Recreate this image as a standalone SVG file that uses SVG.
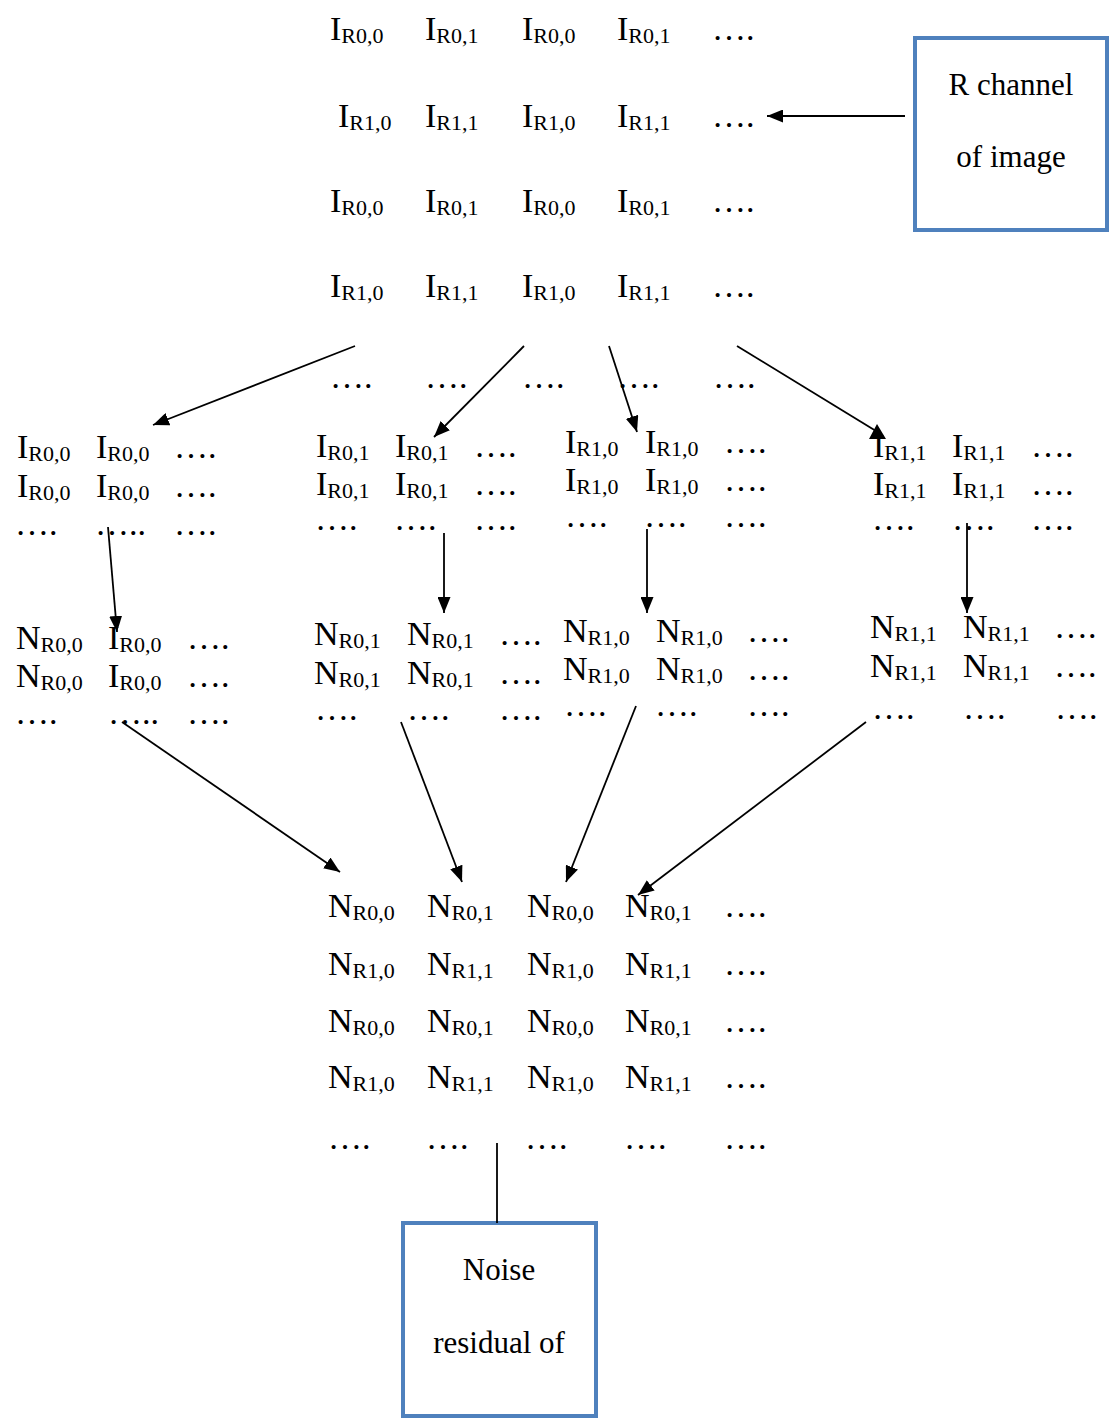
<svg xmlns="http://www.w3.org/2000/svg" width="1112" height="1426" viewBox="0 0 1112 1426">
  <defs>
    <style>
      .m { font-family: "Liberation Serif", "Times New Roman", serif; font-size: 34px; fill: #000; }
      .s { font-size: 22px; }
      .box { fill: #fff; stroke: #4F81BD; stroke-width: 4; }
      .bt { font-family: "Liberation Serif", "Times New Roman", serif; font-size: 31px; fill: #000; text-anchor: middle; }
      .c { stroke: #000; stroke-width: 1.8; fill: none; }
      .a { marker-end: url(#head); }
    </style>
    <marker id="head" markerUnits="userSpaceOnUse" markerWidth="17" markerHeight="13" refX="16" refY="6.5" orient="auto">
      <path d="M0,0 L16,6.5 L0,13 z" fill="#000"/>
    </marker>
  </defs>
  <rect width="1112" height="1426" fill="#fff"/>

  <!-- full R channel grid -->
  <g id="grid-r-channel">
    <text class="m" x="330" y="40">I<tspan class="s" dy="3">R0,0</tspan></text>
    <text class="m" x="425" y="40">I<tspan class="s" dy="3">R0,1</tspan></text>
    <text class="m" x="522" y="40">I<tspan class="s" dy="3">R0,0</tspan></text>
    <text class="m" x="617" y="40">I<tspan class="s" dy="3">R0,1</tspan></text>
    <text class="m" x="712" y="40">….</text>
    <text class="m" x="338" y="127">I<tspan class="s" dy="3">R1,0</tspan></text>
    <text class="m" x="425" y="127">I<tspan class="s" dy="3">R1,1</tspan></text>
    <text class="m" x="522" y="127">I<tspan class="s" dy="3">R1,0</tspan></text>
    <text class="m" x="617" y="127">I<tspan class="s" dy="3">R1,1</tspan></text>
    <text class="m" x="712" y="127">….</text>
    <text class="m" x="330" y="212">I<tspan class="s" dy="3">R0,0</tspan></text>
    <text class="m" x="425" y="212">I<tspan class="s" dy="3">R0,1</tspan></text>
    <text class="m" x="522" y="212">I<tspan class="s" dy="3">R0,0</tspan></text>
    <text class="m" x="617" y="212">I<tspan class="s" dy="3">R0,1</tspan></text>
    <text class="m" x="712" y="212">….</text>
    <text class="m" x="330" y="297">I<tspan class="s" dy="3">R1,0</tspan></text>
    <text class="m" x="425" y="297">I<tspan class="s" dy="3">R1,1</tspan></text>
    <text class="m" x="522" y="297">I<tspan class="s" dy="3">R1,0</tspan></text>
    <text class="m" x="617" y="297">I<tspan class="s" dy="3">R1,1</tspan></text>
    <text class="m" x="712" y="297">….</text>
    <text class="m" x="330" y="388">….</text>
    <text class="m" x="425" y="388">….</text>
    <text class="m" x="522" y="388">….</text>
    <text class="m" x="617" y="388">….</text>
    <text class="m" x="713" y="388">….</text>
  </g>

  <!-- sub-image (0,0) -->
  <g id="sub-r00">
    <text class="m" x="17" y="458">I<tspan class="s" dy="3">R0,0</tspan></text>
    <text class="m" x="96" y="458">I<tspan class="s" dy="3">R0,0</tspan></text>
    <text class="m" x="174" y="458">….</text>
    <text class="m" x="17" y="497">I<tspan class="s" dy="3">R0,0</tspan></text>
    <text class="m" x="96" y="497">I<tspan class="s" dy="3">R0,0</tspan></text>
    <text class="m" x="174" y="497">….</text>
    <text class="m" x="15" y="535">….</text>
    <text class="m" x="95" y="535">…..</text>
    <text class="m" x="174" y="535">….</text>
  </g>
  <g id="noise-r00">
    <text class="m" x="16" y="649">N<tspan class="s" dy="3">R0,0</tspan></text>
    <text class="m" x="108" y="649">I<tspan class="s" dy="3">R0,0</tspan></text>
    <text class="m" x="187" y="649">….</text>
    <text class="m" x="16" y="687">N<tspan class="s" dy="3">R0,0</tspan></text>
    <text class="m" x="108" y="687">I<tspan class="s" dy="3">R0,0</tspan></text>
    <text class="m" x="187" y="687">….</text>
    <text class="m" x="15" y="724">….</text>
    <text class="m" x="108" y="724">…..</text>
    <text class="m" x="187" y="724">….</text>
  </g>

  <!-- sub-image (0,1) -->
  <g id="sub-r01">
    <text class="m" x="316" y="457">I<tspan class="s" dy="3">R0,1</tspan></text>
    <text class="m" x="395" y="457">I<tspan class="s" dy="3">R0,1</tspan></text>
    <text class="m" x="474" y="457">….</text>
    <text class="m" x="316" y="495">I<tspan class="s" dy="3">R0,1</tspan></text>
    <text class="m" x="395" y="495">I<tspan class="s" dy="3">R0,1</tspan></text>
    <text class="m" x="474" y="495">….</text>
    <text class="m" x="315" y="530">….</text>
    <text class="m" x="394" y="530">….</text>
    <text class="m" x="474" y="530">….</text>
  </g>
  <g id="noise-r01">
    <text class="m" x="314" y="645">N<tspan class="s" dy="3">R0,1</tspan></text>
    <text class="m" x="407" y="645">N<tspan class="s" dy="3">R0,1</tspan></text>
    <text class="m" x="499" y="645">….</text>
    <text class="m" x="314" y="684">N<tspan class="s" dy="3">R0,1</tspan></text>
    <text class="m" x="407" y="684">N<tspan class="s" dy="3">R0,1</tspan></text>
    <text class="m" x="499" y="684">….</text>
    <text class="m" x="315" y="720">….</text>
    <text class="m" x="407" y="720">….</text>
    <text class="m" x="499" y="720">….</text>
  </g>

  <!-- sub-image (1,0) -->
  <g id="sub-r10">
    <text class="m" x="565" y="453">I<tspan class="s" dy="3">R1,0</tspan></text>
    <text class="m" x="645" y="453">I<tspan class="s" dy="3">R1,0</tspan></text>
    <text class="m" x="724" y="453">….</text>
    <text class="m" x="565" y="491">I<tspan class="s" dy="3">R1,0</tspan></text>
    <text class="m" x="645" y="491">I<tspan class="s" dy="3">R1,0</tspan></text>
    <text class="m" x="724" y="491">….</text>
    <text class="m" x="565" y="527">….</text>
    <text class="m" x="644" y="527">….</text>
    <text class="m" x="724" y="527">….</text>
  </g>
  <g id="noise-r10">
    <text class="m" x="563" y="642">N<tspan class="s" dy="3">R1,0</tspan></text>
    <text class="m" x="656" y="642">N<tspan class="s" dy="3">R1,0</tspan></text>
    <text class="m" x="747" y="642">….</text>
    <text class="m" x="563" y="680">N<tspan class="s" dy="3">R1,0</tspan></text>
    <text class="m" x="656" y="680">N<tspan class="s" dy="3">R1,0</tspan></text>
    <text class="m" x="747" y="680">….</text>
    <text class="m" x="564" y="716">….</text>
    <text class="m" x="655" y="716">….</text>
    <text class="m" x="747" y="716">….</text>
  </g>

  <!-- sub-image (1,1) -->
  <g id="sub-r11">
    <text class="m" x="873" y="457">I<tspan class="s" dy="3">R1,1</tspan></text>
    <text class="m" x="952" y="457">I<tspan class="s" dy="3">R1,1</tspan></text>
    <text class="m" x="1031" y="457">….</text>
    <text class="m" x="873" y="495">I<tspan class="s" dy="3">R1,1</tspan></text>
    <text class="m" x="952" y="495">I<tspan class="s" dy="3">R1,1</tspan></text>
    <text class="m" x="1031" y="495">….</text>
    <text class="m" x="872" y="530">….</text>
    <text class="m" x="952" y="530">….</text>
    <text class="m" x="1031" y="530">….</text>
  </g>
  <g id="noise-r11">
    <text class="m" x="870" y="638">N<tspan class="s" dy="3">R1,1</tspan></text>
    <text class="m" x="963" y="638">N<tspan class="s" dy="3">R1,1</tspan></text>
    <text class="m" x="1054" y="638">….</text>
    <text class="m" x="870" y="677">N<tspan class="s" dy="3">R1,1</tspan></text>
    <text class="m" x="963" y="677">N<tspan class="s" dy="3">R1,1</tspan></text>
    <text class="m" x="1054" y="677">….</text>
    <text class="m" x="872" y="719">….</text>
    <text class="m" x="963" y="719">….</text>
    <text class="m" x="1055" y="719">….</text>
  </g>

  <!-- reassembled noise residual grid -->
  <g id="grid-noise">
    <text class="m" x="328" y="917">N<tspan class="s" dy="3">R0,0</tspan></text>
    <text class="m" x="427" y="917">N<tspan class="s" dy="3">R0,1</tspan></text>
    <text class="m" x="527" y="917">N<tspan class="s" dy="3">R0,0</tspan></text>
    <text class="m" x="625" y="917">N<tspan class="s" dy="3">R0,1</tspan></text>
    <text class="m" x="724" y="917">….</text>
    <text class="m" x="328" y="975">N<tspan class="s" dy="3">R1,0</tspan></text>
    <text class="m" x="427" y="975">N<tspan class="s" dy="3">R1,1</tspan></text>
    <text class="m" x="527" y="975">N<tspan class="s" dy="3">R1,0</tspan></text>
    <text class="m" x="625" y="975">N<tspan class="s" dy="3">R1,1</tspan></text>
    <text class="m" x="724" y="975">….</text>
    <text class="m" x="328" y="1032">N<tspan class="s" dy="3">R0,0</tspan></text>
    <text class="m" x="427" y="1032">N<tspan class="s" dy="3">R0,1</tspan></text>
    <text class="m" x="527" y="1032">N<tspan class="s" dy="3">R0,0</tspan></text>
    <text class="m" x="625" y="1032">N<tspan class="s" dy="3">R0,1</tspan></text>
    <text class="m" x="724" y="1032">….</text>
    <text class="m" x="328" y="1088">N<tspan class="s" dy="3">R1,0</tspan></text>
    <text class="m" x="427" y="1088">N<tspan class="s" dy="3">R1,1</tspan></text>
    <text class="m" x="527" y="1088">N<tspan class="s" dy="3">R1,0</tspan></text>
    <text class="m" x="625" y="1088">N<tspan class="s" dy="3">R1,1</tspan></text>
    <text class="m" x="724" y="1088">….</text>
    <text class="m" x="328" y="1149">….</text>
    <text class="m" x="426" y="1149">….</text>
    <text class="m" x="525" y="1149">….</text>
    <text class="m" x="624" y="1149">….</text>
    <text class="m" x="724" y="1149">….</text>
  </g>

  <!-- labelled boxes -->
  <g id="box-r-channel">
    <rect class="box" x="915" y="38" width="192" height="192"/>
    <text class="bt" x="1011" y="95">R channel</text>
    <text class="bt" x="1011" y="167">of image</text>
  </g>
  <g id="box-noise">
    <rect class="box" x="403" y="1223" width="193" height="193"/>
    <text class="bt" x="499" y="1280">Noise</text>
    <text class="bt" x="499" y="1353">residual of</text>
  </g>

  <!-- connectors -->
  <g id="connectors">
    <line class="c a" x1="905" y1="116" x2="767" y2="116"/>
    <line class="c a" x1="355" y1="346" x2="153" y2="425"/>
    <line class="c a" x1="524" y1="346" x2="434" y2="437"/>
    <line class="c a" x1="609" y1="346" x2="637" y2="432"/>
    <line class="c" x1="737" y1="346" x2="876" y2="431"/>
    <polygon points="877,424 869,439 886,439" fill="#000"/>
    <line class="c a" x1="108" y1="527" x2="117" y2="632"/>
    <line class="c a" x1="444" y1="533" x2="444" y2="613"/>
    <line class="c a" x1="647" y1="529" x2="647" y2="613"/>
    <line class="c a" x1="967" y1="523" x2="967" y2="613"/>
    <line class="c a" x1="122" y1="722" x2="340" y2="872"/>
    <line class="c a" x1="401" y1="722" x2="462" y2="882"/>
    <line class="c a" x1="636" y1="706" x2="566" y2="882"/>
    <line class="c a" x1="866" y1="722" x2="638" y2="895"/>
    <line class="c" x1="497" y1="1143" x2="497" y2="1223"/>
  </g>
</svg>
